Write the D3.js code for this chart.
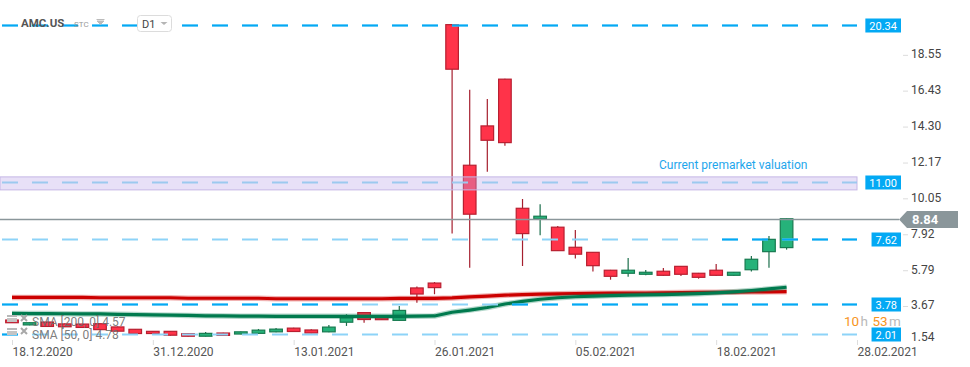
<!DOCTYPE html>
<html><head><meta charset="utf-8">
<script src="https://cdn.jsdelivr.net/npm/d3@7"></script>
<style>
html,body{margin:0;padding:0;background:#fff;}
svg{display:block;font-family:Roboto,"Open Sans",sans-serif;}
</style></head><body>
<svg id="chart" width="970" height="367"></svg>
<script>
// ---------- DATA ----------
const dates = ["18.12.2020","21.12.2020","22.12.2020","23.12.2020","24.12.2020","28.12.2020","29.12.2020","30.12.2020","31.12.2020",
  "04.01.2021","05.01.2021","06.01.2021","07.01.2021","08.01.2021","11.01.2021","12.01.2021","13.01.2021","14.01.2021","15.01.2021",
  "19.01.2021","20.01.2021","21.01.2021","22.01.2021","25.01.2021","26.01.2021","27.01.2021","28.01.2021","29.01.2021",
  "01.02.2021","02.02.2021","03.02.2021","04.02.2021","05.02.2021","08.02.2021","09.02.2021","10.02.2021","11.02.2021","12.02.2021",
  "16.02.2021","17.02.2021","18.02.2021","19.02.2021","22.02.2021","23.02.2021","24.02.2021"];
const open  = [2.84,2.55,2.72,2.61,2.60,2.62,2.43,2.29,2.17,2.17,2.03,1.88,2.07,2.01,2.05,2.14,2.36,2.25,2.14,2.71,3.28,2.98,2.82,4.74,5.03,
  20.34,12.01,14.34,17.11,9.46,8.83,8.34,7.15,6.85,5.79,5.61,5.55,5.73,6.02,5.61,5.79,5.49,5.82,6.89,7.13];
const high  = [2.86,2.70,2.74,2.63,2.62,2.64,2.45,2.31,2.19,2.19,2.05,2.13,2.09,2.16,2.31,2.36,2.38,2.30,2.55,3.18,3.30,3.00,3.67,4.82,5.09,
  20.36,16.48,15.94,17.13,10.01,9.70,8.41,8.18,6.87,5.81,6.52,5.81,5.92,6.04,5.63,6.16,5.69,6.63,7.82,8.86];
const low   = [2.66,2.53,2.44,2.42,2.38,2.25,2.16,2.02,2.02,1.92,1.86,1.86,1.91,1.99,2.03,2.12,2.14,2.05,2.12,2.49,2.68,2.84,2.78,3.87,4.37,
  7.96,5.94,11.63,13.17,6.04,7.86,6.93,6.48,5.71,5.23,5.41,5.49,5.47,5.45,5.29,5.47,5.47,5.71,5.94,7.01];
const close = [2.68,2.68,2.46,2.44,2.40,2.27,2.18,2.04,2.04,1.94,1.88,2.05,1.93,2.14,2.24,2.30,2.16,2.07,2.42,2.98,2.87,2.86,3.41,4.38,4.76,
  17.70,9.11,13.49,13.35,7.96,8.99,6.95,6.74,6.06,5.43,5.79,5.67,5.49,5.55,5.37,5.49,5.67,6.44,7.62,8.84];
const sma200 = [4.18,4.18,4.18,4.18,4.18,4.16,4.16,4.16,4.16,4.16,4.13,4.13,4.13,4.13,4.13,4.10,4.10,4.10,4.10,4.10,4.10,4.10,4.12,4.12,4.12,
  4.15,4.21,4.26,4.31,4.35,4.37,4.39,4.41,4.42,4.43,4.44,4.44,4.45,4.47,4.48,4.48,4.49,4.50,4.51,4.52];
const sma50 = [3.23,3.22,3.22,3.21,3.20,3.20,3.18,3.16,3.14,3.13,3.11,3.09,3.08,3.07,3.07,3.06,3.06,3.06,3.06,3.06,3.06,3.06,3.06,3.07,3.08,
  3.30,3.43,3.58,3.79,3.94,4.07,4.16,4.22,4.25,4.29,4.31,4.33,4.35,4.37,4.40,4.45,4.51,4.59,4.68,4.78];
const xTickIndex  = [0,8,16,24,32,40,48];
const xTickLabels = ["18.12.2020","31.12.2020","13.01.2021","26.01.2021","05.02.2021","18.02.2021","28.02.2021"];
const yTicks = [1.54,3.67,5.79,7.92,10.05,12.17,14.30,16.43,18.55];
const levels = [20.34,11.00,7.62,3.78,2.01];
const zone = [10.55,11.32];
const zoneLabel = "Current premarket valuation";
const currentPrice = 8.84;
const smaNames  = ["SMA [200, 0]","SMA [50, 0]"];
const smaValues = [4.57,4.78];
const symbol = "AMC.US", symbolSub = "STC", interval = "D1";
const timerParts = ["10","h","53","m"];

// ---------- STYLE ----------
const svg = d3.select("#chart");
const x = d3.scaleLinear().domain([0,48]).range([12,857]);
const y = d3.scaleLinear().domain([1.36,21.80]).range([345,0]);
const bodyW = 12.6;
const RED = "#ff3349", RED_B = "#b81f30", RED_W = "#a51f2e";
const GRN = "#26b27a", GRN_B = "#177a50", GRN_W = "#1b6e4b";
const BLUE = "#03a9f4", LBLUE = "#8dd3f8";
const lineEnd = 857;
const levelBright = [[[0,857]],[],[[720,857]],[[0,350],[500,857]],[[0,20]]];

// ---------- CANDLES ----------
const idx = d3.range(dates.length);
const cg = svg.append("g");
cg.selectAll("line.wick").data(idx).join("line")
  .attr("x1", i=>x(i)).attr("x2", i=>x(i))
  .attr("y1", i=>y(high[i])).attr("y2", i=>y(low[i]))
  .attr("stroke", i=> close[i]>=open[i]?GRN_W:RED_W).attr("stroke-width",1.2);
cg.selectAll("rect.body").data(idx).join("rect")
  .attr("x", i=>x(i)-bodyW/2).attr("width", bodyW)
  .attr("y", i=>y(Math.max(open[i],close[i])))
  .attr("height", i=>Math.max(1.5, Math.abs(y(open[i])-y(close[i]))))
  .attr("fill", i=> close[i]>=open[i]?GRN:RED)
  .attr("stroke", i=> close[i]>=open[i]?GRN_B:RED_B).attr("stroke-width",1.2);

// ---------- SMA LINES ----------
const lineGen = arr => d3.line().x((d,i)=>x(i)).y(d=>y(d))(arr);
[[sma200,"#cc0000"],[sma50,"#007a4e"]].forEach(([arr,col])=>{
  svg.append("path").attr("d",lineGen(arr)).attr("fill","none").attr("stroke",col).attr("stroke-opacity",0.3).attr("stroke-width",5.5).attr("stroke-linejoin","round");
  svg.append("path").attr("d",lineGen(arr)).attr("fill","none").attr("stroke",col).attr("stroke-width",3.2).attr("stroke-linejoin","round");
});

// ---------- ZONE ----------
svg.append("rect").attr("x",0).attr("width",lineEnd)
  .attr("y", y(zone[1])).attr("height", y(zone[0])-y(zone[1]))
  .attr("fill","rgb(190,170,232)").attr("fill-opacity",0.36)
  .attr("stroke","#c5b6e6").attr("stroke-width",1);
svg.append("text").attr("x",659).attr("y",y(zone[1])-8).attr("font-size",12).attr("fill","#1ea6ec").text(zoneLabel);

// ---------- LEVEL LINES ----------
levels.forEach((lv,k)=>{
  const yy = Math.round(y(lv))+0.5;
  svg.append("line").attr("x1",2).attr("x2",lineEnd).attr("y1",yy).attr("y2",yy)
    .attr("stroke", k===1? "#9cc9ef" : LBLUE).attr("stroke-width",2).attr("stroke-dasharray","16,14");
  levelBright[k].forEach(([a,b])=>{
    const s = 2 + 30*Math.ceil((a-2)/30);
    if (s>=b) return;
    svg.append("line").attr("x1",s).attr("x2",b).attr("y1",yy).attr("y2",yy)
      .attr("stroke", BLUE).attr("stroke-width",2).attr("stroke-dasharray","16,14");
  });
  const g = svg.append("g");
  const t = g.append("text").attr("font-size",11).attr("fill","#fff").attr("text-anchor","end")
    .attr("x",897).attr("y",yy+4).text(lv.toFixed(2));
  const tw = t.node().getComputedTextLength();
  g.insert("rect","text").attr("x",901-tw-8).attr("width",tw+8).attr("y",yy-7).attr("height",14).attr("fill",BLUE);
});

// ---------- CURRENT PRICE ----------
const py = Math.round(y(currentPrice))+0.5;
svg.append("line").attr("x1",0).attr("x2",899).attr("y1",py).attr("y2",py).attr("stroke","#8a969a").attr("stroke-width",1.5);
svg.append("path").attr("d",`M899,${py} L907,${py-8.5} L958,${py-8.5} L958,${py+8.5} L907,${py+8.5} Z`).attr("fill","#8a969a");
svg.append("text").attr("x",912).attr("y",py+4.5).attr("font-size",13).attr("font-weight","bold").attr("fill","#fff").text(currentPrice.toFixed(2));

// ---------- AXES ----------
const ya = svg.append("g").attr("transform","translate(903,0)")
  .call(d3.axisRight(y).tickValues(yTicks).tickSize(5).tickPadding(3).tickFormat(d3.format(".2f")));
ya.select(".domain").remove();
ya.selectAll(".tick line").attr("stroke","#dcdcdc");
ya.selectAll(".tick text").attr("font-size",12).attr("fill","#444").attr("font-family","Roboto").attr("y",-1);
ya.selectAll(".tick").filter(d=>y(d)>336).select("text").attr("y",-5);
ya.selectAll(".tick").filter(d=>y(d)>336).select("line").remove();

const xa = svg.append("g").attr("transform","translate(0,340)")
  .call(d3.axisBottom(x).tickValues(xTickIndex).tickSize(5).tickPadding(2).tickFormat((d,i)=>xTickLabels[i]));
xa.select(".domain").remove();
xa.selectAll(".tick line").attr("stroke","#dddddd");
xa.selectAll(".tick text").attr("font-size",12).attr("fill","#555").attr("text-anchor","start").attr("font-family","Roboto");

// ---------- HEADER ----------
svg.append("text").attr("x",21).attr("y",26.5).attr("font-size",11.5).attr("font-weight","bold").attr("fill","#555").text(symbol);
svg.append("text").attr("x",74).attr("y",27).attr("font-size",8).attr("fill","#9a9a9a").text(symbolSub);
svg.append("path").attr("d","M96.5,19.5 L104.5,19.5 M97,21 L104,21 L100.5,24.5 Z").attr("stroke","#bbb").attr("stroke-width",1).attr("fill","#bbb");
svg.append("rect").attr("x",137.5).attr("y",15.5).attr("width",34).attr("height",16).attr("rx",3).attr("fill","#fff").attr("stroke","#dcdcdc");
svg.append("text").attr("x",142).attr("y",27.5).attr("font-size",11).attr("fill","#444").text(interval);
svg.append("path").attr("d","M160.5,22 L167.5,22 L164,25 Z").attr("fill","#b5b5b5");

// ---------- SMA LEGEND ----------
smaNames.forEach((n,k)=>{
  const cy = 321 + k*13;
  svg.append("rect").attr("x",7).attr("y",cy-6).attr("width",10).attr("height",2).attr("fill","#b8b8b8");
  svg.append("rect").attr("x",7).attr("y",cy-3).attr("width",10).attr("height",4).attr("fill","#c4c4c4");
  svg.append("path").attr("d",`M21,${cy-6} L27,${cy} M27,${cy-6} L21,${cy}`).attr("stroke","#a8a8a8").attr("stroke-width",2);
  svg.append("text").attr("x",32).attr("y",cy+4.5).attr("font-size",12).attr("fill","#6e6e6e").attr("fill-opacity",0.9)
    .text(n+" "+smaValues[k].toFixed(2));
});

// ---------- TIMER ----------
const tx = [844,860.5,872.5,889];
timerParts.forEach((p,k)=>{
  svg.append("text").attr("x",tx[k]).attr("y",326).attr("font-size",13.5)
    .attr("fill", k%2===0? "#f7941d" : "#b9b9b9").text(p);
});
</script>
</body></html>
